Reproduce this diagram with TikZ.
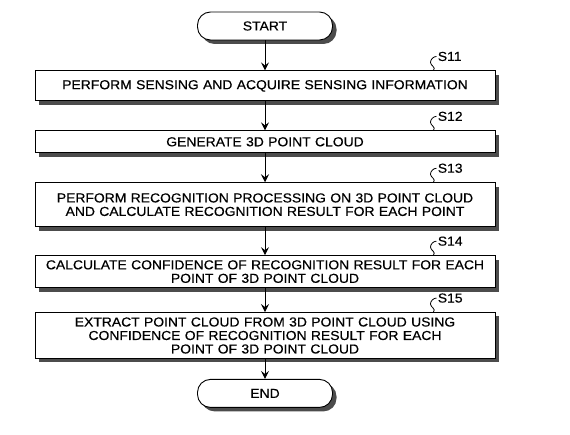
\documentclass[tikz,border=0pt]{standalone}
\usepackage{fontspec}
\setmainfont{Liberation Sans}[FakeStretch=1.07, FakeBold=0.4]
\usetikzlibrary{shapes.geometric, arrows, arrows.meta, positioning, shadows}
\tikzstyle{terminal} = [rectangle, rounded corners=13pt, minimum width=135pt, minimum height=28pt, text centered, draw=black, line width=0.9pt, fill=white, drop shadow={shadow xshift=4pt, shadow yshift=-4pt, fill=black!70, opacity=1}]
\tikzstyle{process} = [rectangle, minimum width=460pt, text width=458pt, align=center, inner sep=1pt, draw=black, line width=0.9pt, fill=white, drop shadow={shadow xshift=4pt, shadow yshift=-4pt, fill=black!70, opacity=1}]
\tikzstyle{arrow} = [line width=0.9pt,-{Stealth[length=8pt,width=8pt,inset=3pt]}]
\tikzstyle{tag} = [anchor=west, inner sep=1pt]

\begin{document}
\begin{tikzpicture}[x=1pt, y=1pt, font={\fontsize{13}{13.5}\selectfont}]
      \useasboundingbox (0,0) rectangle (570,-435);

      \node (start) [terminal] at (265,-26) {START};
      \node (s11) [process, minimum height=30pt, below=30pt of start] {PERFORM SENSING AND ACQUIRE SENSING INFORMATION};
      \node (s12) [process, minimum height=22pt, below=29pt of s11] {GENERATE 3D POINT CLOUD};
      \node (s13) [process, minimum height=44pt, below=29pt of s12] {PERFORM RECOGNITION PROCESSING ON 3D POINT CLOUD\\ AND CALCULATE RECOGNITION RESULT FOR EACH POINT};
      \node (s14) [process, minimum height=32pt, below=28pt of s13] {CALCULATE CONFIDENCE OF RECOGNITION RESULT FOR EACH\\ POINT OF 3D POINT CLOUD};
      \node (s15) [process, minimum height=46pt, below=24pt of s14] {EXTRACT POINT CLOUD FROM 3D POINT CLOUD USING\\ CONFIDENCE OF RECOGNITION RESULT FOR EACH\\ POINT OF 3D POINT CLOUD};
      \node (stop) [terminal, below=20pt of s15] {END};

      % Arrows
      \draw [arrow] (start) -- (s11);
      \draw [arrow] (s11) -- (s12);
      \draw [arrow] (s12) -- (s13);
      \draw [arrow] (s13) -- (s14);
      \draw [arrow] (s14) -- (s15);
      \draw [arrow] (s15) -- (stop);

      % Step labels
      \foreach \n in {11,...,15}
        \draw [line width=0.8pt] (s\n.north east) ++(-62pt,0) .. controls +(3pt,3pt) and +(0pt,-3pt) .. ++(-3pt,8pt) .. controls +(0pt,3pt) and +(-3pt,0pt) .. ++(6pt,6pt) node[tag] {S\n};

\end{tikzpicture}
\end{document}
